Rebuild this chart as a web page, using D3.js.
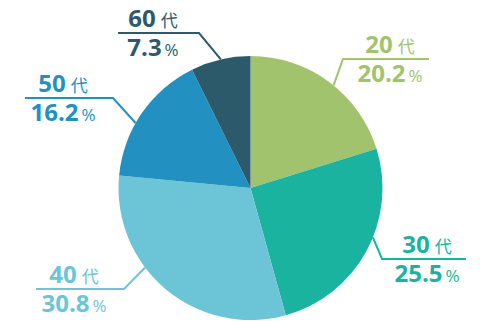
<!DOCTYPE html>
<html>
<head>
<meta charset="utf-8">
<script src="https://cdn.jsdelivr.net/npm/d3@7"></script>
<style>
  body { margin: 0; background: #fff; }
  svg { display: block; }
</style>
</head>
<body>
<script>
// data
const ages = ["20", "30", "40", "50", "60"]
const shares = [20.2, 25.5, 30.8, 16.2, 7.3]
const colors = ["#a2c36d", "#19b3a0", "#6cc5d7", "#2390c2", "#2c5a6a"]

// label placement (leader angle in degrees, elbow point, end of shelf, text centre)
const leaderAngle = [39, 112, 233, 299.5, 347]
const elbow = [[343, 59], [382, 259], [124, 289], [113, 98], [199, 33]]
const shelfEnd = [429, 466, 36, 25, 118]
const textX = [390, 427, 74, 63, 153]

const width = 501, height = 321
const cx = 250.5, cy = 188, radius = 132

const svg = d3.select("body").append("svg")
  .attr("width", width)
  .attr("height", height)

const pie = d3.pie().sort(null).value(d => d)
const arc = d3.arc().innerRadius(0).outerRadius(radius)
const arcs = pie(shares)

const g = svg.append("g").attr("transform", `translate(${cx},${cy})`)

g.selectAll("path")
  .data(arcs)
  .join("path")
    .attr("d", arc)
    .attr("fill", (d, i) => colors[i])

// leader lines
svg.append("g")
    .attr("fill", "none")
    .attr("stroke-width", 2)
  .selectAll("polyline")
  .data(arcs)
  .join("polyline")
    .attr("stroke", (d, i) => colors[i])
    .attr("points", (d, i) => {
      const a = leaderAngle[i] * Math.PI / 180
      const sx = cx + radius * Math.sin(a)
      const sy = cy - radius * Math.cos(a)
      return [[sx, sy], elbow[i], [shelfEnd[i], elbow[i][1]]].map(p => p.join(",")).join(" ")
    })

const labels = svg.append("g")
    .attr("font-family", "'Open Sans', 'Noto Sans CJK JP', sans-serif")
    .attr("text-anchor", "middle")
  .selectAll("g")
  .data(arcs)
  .join("g")
    .attr("fill", (d, i) => colors[i])

const ageText = labels.append("text")
    .attr("x", (d, i) => textX[i])
    .attr("y", (d, i) => elbow[i][1] - 6)
ageText.append("tspan")
    .attr("font-size", 24)
    .attr("font-weight", 700)
    .text((d, i) => ages[i])
ageText.append("tspan")
    .attr("dx", 5)
    .attr("font-size", 17)
    .attr("font-family", "'Noto Sans CJK JP', sans-serif")
    .attr("font-weight", 400)
    .text("代")

const shareText = labels.append("text")
    .attr("x", (d, i) => textX[i])
    .attr("y", (d, i) => elbow[i][1] + 23)
shareText.append("tspan")
    .attr("font-size", 24)
    .attr("font-weight", 700)
    .text((d, i) => shares[i].toFixed(1))
shareText.append("tspan")
    .attr("dx", 3)
    .attr("font-size", 17)
    .attr("font-weight", 400)
    .text("%")
</script>
</body>
</html>
